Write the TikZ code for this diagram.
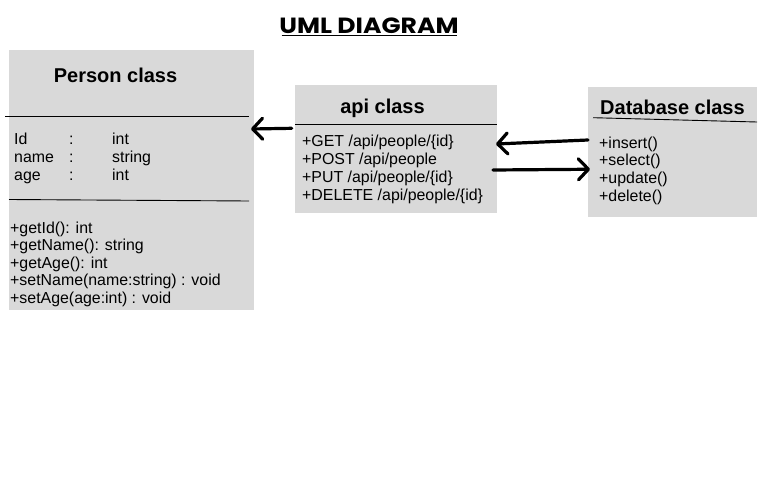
\documentclass[tikz,border=0pt]{standalone}
\usepackage{fontspec}
\setmainfont{Liberation Sans}
\newfontfamily\headfont{Poppins}
\usetikzlibrary{arrows.meta}
\definecolor{boxgray}{HTML}{D9D9D9}
\tikzset{
  classbox/.style={fill=boxgray, draw=none, inner sep=0pt, outer sep=0pt},
  classtitle/.style={anchor=base, inner sep=0pt, font=\fontsize{20}{22}\selectfont\bfseries},
  member/.style={anchor=base west, inner sep=0pt, font=\fontsize{15.9}{17.8}\selectfont},
  rule/.style={line width=0.9pt, black},
  link/.style={line width=3.2pt, line cap=round, -{Straight Barb[length=10pt, width=21pt, round]}}
}
\begin{document}
\begin{tikzpicture}[x=1pt, y=-1pt]
\useasboundingbox (0,0) rectangle (776,503);
\fill[white] (0,0) rectangle (776,503);

% heading
\node[anchor=base, inner sep=0pt, font=\headfont\bfseries\fontsize{22}{24}\selectfont] (heading) at (369,33.3) {\scalebox{1.14}[1]{UML DIAGRAM}};
\draw[line width=1.8pt] (281.5,35.6) -- (456.5,35.6);

% class boxes
\node[classbox, minimum width=245pt, minimum height=260pt] (person) at (131.5,180) {};
\node[classbox, minimum width=202pt, minimum height=128pt] (api) at (396,148.5) {};
\node[classbox, minimum width=169pt, minimum height=129.5pt] (db) at (672.5,151.75) {};

% Person class
\node[classtitle] (ptitle) at (115.5,82) {Person class};
\draw[rule] (5,116.5) -- (249,116.5);
\node[member] (a1) at (14,144) {Id};
\node[member] (a1c) at (69,144) {:};
\node[member] (a1t) at (112,144) {int};
\node[member] (a2) at (14,162) {name};
\node[member] (a2c) at (69,162) {:};
\node[member] (a2t) at (112,162) {string};
\node[member] (a3) at (14,180) {age};
\node[member] (a3c) at (69,180) {:};
\node[member] (a3t) at (112,180) {int};
\draw[rule] (9,199.5) -- (249,201);
\node[member] (m1) at (10,233) {+getId(): int};
\node[member] (m2) at (10,250.5) {+getName(): string};
\node[member] (m3) at (10,268) {+getAge(): int};
\node[member] (m4) at (10,285.5) {+setName(name:string) : void};
\node[member] (m5) at (10,303) {+setAge(age:int) : void};

% api class
\node[classtitle] (atitle) at (382.5,113) {api class};
\draw[rule] (295,124) -- (497,124);
\node[member] (r1) at (302,146.7) {+GET /api/people/\{id\}};
\node[member] (r2) at (302,164.5) {+POST /api/people};
\node[member] (r3) at (302,182.3) {+PUT /api/people/\{id\}};
\node[member] (r4) at (302,200) {+DELETE /api/people/\{id\}};

% Database class
\node[classtitle] (dtitle) at (672.5,114) {Database class};
\draw[rule] (593,117.7) -- (757,122);
\node[member] (q1) at (599,148) {+insert()};
\node[member] (q2) at (599,165.9) {+select()};
\node[member] (q3) at (599,183.8) {+update()};
\node[member] (q4) at (599,201.7) {+delete()};

% connectors
\draw[link] ([xshift=-3.3pt, yshift=20.2pt]api.west) -- ([xshift=-3pt, yshift=51pt]person.east);
\draw[link] ([yshift=11.75pt]db.west) -- ([xshift=-1pt, yshift=4.5pt]api.east);
\draw[link] ([xshift=-4pt, yshift=-21.5pt]api.east) -- ([xshift=2pt, yshift=-17.5pt]db.west);
\end{tikzpicture}
\end{document}
